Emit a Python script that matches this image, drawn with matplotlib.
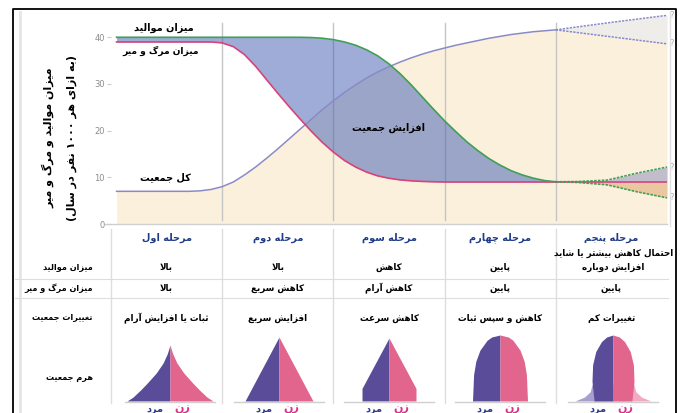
import re
import numpy as np
import matplotlib
matplotlib.use('Agg')
import matplotlib.pyplot as plt

plt.rcParams['font.family'] = ['DejaVu Sans']

# matplotlib has no arabic joining / bidi, so shape persian text by hand
FORMS = {
    '\u0622': ('\uFE81', '\uFE82', None, None),
    '\u0627': ('\uFE8D', '\uFE8E', None, None),
    '\u0628': ('\uFE8F', '\uFE90', '\uFE91', '\uFE92'),
    '\u067E': ('\uFB56', '\uFB57', '\uFB58', '\uFB59'),
    '\u062A': ('\uFE95', '\uFE96', '\uFE97', '\uFE98'),
    '\u062B': ('\uFE99', '\uFE9A', '\uFE9B', '\uFE9C'),
    '\u062C': ('\uFE9D', '\uFE9E', '\uFE9F', '\uFEA0'),
    '\u0686': ('\uFB7A', '\uFB7B', '\uFB7C', '\uFB7D'),
    '\u062D': ('\uFEA1', '\uFEA2', '\uFEA3', '\uFEA4'),
    '\u062F': ('\uFEA9', '\uFEAA', None, None),
    '\u0631': ('\uFEAD', '\uFEAE', None, None),
    '\u0632': ('\uFEAF', '\uFEB0', None, None),
    '\u0633': ('\uFEB1', '\uFEB2', '\uFEB3', '\uFEB4'),
    '\u0634': ('\uFEB5', '\uFEB6', '\uFEB7', '\uFEB8'),
    '\u0639': ('\uFEC9', '\uFECA', '\uFECB', '\uFECC'),
    '\u063A': ('\uFECD', '\uFECE', '\uFECF', '\uFED0'),
    '\u0641': ('\uFED1', '\uFED2', '\uFED3', '\uFED4'),
    '\u06A9': ('\uFB8E', '\uFB8F', '\uFB90', '\uFB91'),
    '\u06AF': ('\uFB92', '\uFB93', '\uFB94', '\uFB95'),
    '\u0644': ('\uFEDD', '\uFEDE', '\uFEDF', '\uFEE0'),
    '\u0645': ('\uFEE1', '\uFEE2', '\uFEE3', '\uFEE4'),
    '\u0646': ('\uFEE5', '\uFEE6', '\uFEE7', '\uFEE8'),
    '\u0647': ('\uFEE9', '\uFEEA', '\uFEEB', '\uFEEC'),
    '\u0648': ('\uFEED', '\uFEEE', None, None),
    '\u06CC': ('\uFBFC', '\uFBFD', '\uFBFE', '\uFBFF'),
}
LAM_ALEF = {'\u0627': ('\uFEFB', '\uFEFC'), '\u0622': ('\uFEF5', '\uFEF6')}


def joins_next(c):
    return c in FORMS and FORMS[c][2] is not None


def fa_line(text):
    text = text.replace('\u064A', '\u06CC').replace('\u0643', '\u06A9')
    out = []
    i = 0
    while i < len(text):
        ch = text[i]
        if ch not in FORMS:
            out.append(ch)
            i += 1
            continue
        prev_j = i > 0 and joins_next(text[i - 1])
        nxt = text[i + 1] if i + 1 < len(text) else ''
        if ch == '\u0644' and nxt in LAM_ALEF:
            out.append(LAM_ALEF[nxt][1 if prev_j else 0])
            i += 2
            continue
        next_j = joins_next(ch) and nxt in FORMS
        iso, fin, ini, med = FORMS[ch]
        if prev_j and next_j:
            out.append(med)
        elif prev_j:
            out.append(fin)
        elif next_j:
            out.append(ini)
        else:
            out.append(iso)
        i += 1
    s = ''.join(out)
    runs = re.findall(r'\d+|\D+', s)
    vis = ''.join(r if r[0].isdigit() else r[::-1] for r in reversed(runs))
    return vis.translate(str.maketrans('()', ')('))


def fa(text):
    return '\n'.join(fa_line(t) for t in text.split('\n'))


# ---------------- data ----------------
u = [0.05, 0.5, 0.6, 0.7, 0.8, 0.9, 1.0, 1.1, 1.2, 1.3, 1.4, 1.5, 1.6, 1.7, 1.8, 1.9, 2.0,
     2.1, 2.2, 2.3, 2.4, 2.5, 2.6, 2.7, 2.8, 2.9, 3.0, 3.1, 3.2, 3.3, 3.4,
     3.5, 3.6, 3.7, 3.8, 3.9, 4.0]
birth = [40, 40, 40, 40, 40, 40, 40, 40, 40, 40, 40, 40, 40, 40, 39.95, 39.8, 39.5,
         39.0, 38.3, 37.3, 36.0, 34.3, 32.2, 29.8, 27.2, 24.6, 22.1, 19.8, 17.6, 15.7, 14.0,
         12.6, 11.4, 10.5, 9.8, 9.3, 9.05]
death = [39, 39, 39, 39, 39, 39, 38.8, 38.0, 36.3, 33.8, 30.9, 28.0, 25.2, 22.5, 19.9, 17.5, 15.4,
         13.6, 12.2, 11.1, 10.3, 9.8, 9.45, 9.25, 9.12, 9.05, 9.0, 9.0, 9.0, 9.0, 9.0,
         9.0, 9.0, 9.0, 9.0, 9.0, 9.0]
population = [7.0, 7.0, 7.0, 7.0, 7.1, 7.4, 8.0, 9.0, 10.5, 12.2, 14.1, 16.1, 18.2, 20.3, 22.4, 24.5, 26.4,
              28.2, 29.8, 31.3, 32.6, 33.7, 34.7, 35.6, 36.4, 37.1, 37.7, 38.3, 38.8, 39.3, 39.8,
              40.2, 40.6, 40.9, 41.2, 41.4, 41.6]

# stage five: uncertain projections
proj_u = [4.0, 4.2, 4.46, 4.73, 5.0]
birth_hi = [9.05, 9.1, 9.4, 10.9, 12.2]
birth_lo = [9.05, 8.9, 8.4, 6.9, 5.6]
death_proj = [9.0, 9.0, 9.0, 9.0, 9.0]
pop_proj_u = [4.0, 4.5, 5.0]
pop_hi = [41.6, 43.2, 44.7]
pop_lo = [41.6, 40.1, 38.6]

stage_names = ['مرحله اول', 'مرحله دوم', 'مرحله سوم', 'مرحله چهارم', 'مرحله پنجم']
birth_txt = ['بالا', 'بالا', 'کاهش', 'پایین', 'احتمال کاهش بیشتر یا شاید\nافزایش دوباره']
death_txt = ['بالا', 'کاهش سریع', 'کاهش آرام', 'پایین', 'پایین']
change_txt = ['ثبات یا افزایش آرام', 'افزایش سریع', 'کاهش سرعت', 'کاهش و سپس ثبات', 'تغییرات کم']
row_labels = ['میزان موالید', 'میزان مرگ و میر', 'تغییرات جمعیت', 'هرم جمعیت']

# pyramid outlines: relative height -> relative half width
pyr_h = [[0, 0.07, 0.2, 0.32, 0.5, 0.68, 0.85, 1.0],
         [0, 1.0],
         [0, 0.2, 1.0],
         [0, 0.4, 0.6, 0.77, 0.92, 0.97, 1.0],
         [0, 0.3, 0.55, 0.75, 0.9, 0.97, 1.0]]
pyr_w = [[1, 0.86, 0.68, 0.53, 0.32, 0.16, 0.06, 0],
         [1, 0],
         [1, 1, 0],
         [1, 0.96, 0.88, 0.73, 0.47, 0.3, 0],
         [0.9, 1, 0.97, 0.82, 0.55, 0.3, 0]]
skirt_h = [0, 0.06, 0.14, 0.25]
skirt_w = [1, 0.75, 0.6, 0.55]

# ---------------- layout ----------------
W, H = 683, 413
X0, X1 = 111, 667          # stage 0..5 in pixels
Y0, YTOP = 224, 9          # value 0 and top of axes in pixels
PX_PER_UNIT = 4.6675

GREEN = '#3f9f56'
PINK = '#d8437a'
LAV = '#8a8ac6'
BEIGE = '#faf0dc'
MALE = '#5a4c98'
FEMALE = '#e2658e'
HEAD = '#1f3c88'
TS = 6.3                   # table text size

fig = plt.figure(figsize=(6.83, 4.13), dpi=100)

ax = fig.add_axes([X0 / W, (H - Y0) / H, (X1 - X0) / W, (Y0 - YTOP) / H])
ax.set_xlim(0, 5)
ax.set_ylim(0, (Y0 - YTOP) / PX_PER_UNIT)
ax.patch.set_alpha(0)
for s in ax.spines.values():
    s.set_visible(False)
ax.set_xticks([])
ax.set_yticks([0, 10, 20, 30, 40])
ax.tick_params(axis='y', length=3, width=0.8, color='#cccccc', labelcolor='#8c8c8c',
               labelsize=6, pad=1.5)

ax.fill_between(u, 0, population, color=BEIGE, lw=0, zorder=1)
ax.fill_between(pop_proj_u, 0, pop_lo, color=BEIGE, lw=0, zorder=1)
ax.fill_between(pop_proj_u, pop_lo, pop_hi, color='#efedea', lw=0, zorder=1)
ax.fill_between(u, death, birth, color='#4560b4', alpha=0.52, lw=0, zorder=2)
ax.fill_between(proj_u, death_proj, birth_hi, color='#8c8cc0', alpha=0.5, lw=0, zorder=2)
ax.fill_between(proj_u, birth_lo, death_proj, color='#d9955a', alpha=0.45, lw=0, zorder=2)

for b in [1, 2, 3, 4]:
    ax.plot([b, b], [0.8, 43], color='#c4c4c4', lw=1, zorder=1.5)
ax.plot([-0.054, 5], [0, 0], color='#d0d0d0', lw=1, clip_on=False, zorder=1.5)

ax.plot(u, population, color=LAV, lw=1.1, zorder=3)
ax.plot(u, death, color=PINK, lw=1.2, zorder=3)
ax.plot(u, birth, color=GREEN, lw=1.2, zorder=3)
ax.plot(proj_u, death_proj, color=PINK, lw=1.2, zorder=3)
dash = (0, (1.5, 0.8))
for yy in (pop_hi, pop_lo):
    ax.plot(pop_proj_u, yy, color=LAV, lw=1.1, ls=dash, zorder=3)
for yy in (birth_hi, birth_lo):
    ax.plot(proj_u, yy, color=GREEN, lw=1.2, ls=dash, zorder=3)
for yy in (pop_hi[-1], pop_lo[-1], birth_hi[-1], birth_lo[-1]):
    ax.text(5.02, yy, '?', color='#aaaaaa', fontsize=6, ha='left', va='center', zorder=4)

# overlay in pixel coordinates for the table, labels and pyramids
ov = fig.add_axes([0, 0, 1, 1], zorder=3)
ov.set_xlim(0, W)
ov.set_ylim(H, 0)
ov.axis('off')
ov.patch.set_alpha(0)

# frame
ov.plot([13, 13, 676, 676], [H, 8.5, 8.5, H], color='black', lw=1.3)
ov.plot([20, 20], [12, H], color='#e6e6e6', lw=2)
ov.plot([670, 670], [12, 226], color='#e0e0e0', lw=1)

# labels on the chart
bold = dict(fontweight='bold', color='black')
ov.text(164, 28, fa('میزان موالید'), fontsize=7, ha='center', va='center', **bold)
ov.text(161, 51, fa('میزان مرگ و میر'), fontsize=6.6, ha='center', va='center', **bold)
ov.text(165, 177, fa('کل جمعیت'), fontsize=7, ha='center', va='center', **bold)
ov.text(388, 128, fa('افزایش جمعیت'), fontsize=7, ha='center', va='center', **bold)
ov.text(48, 138, fa('میزان موالید و مرگ و میر'), fontsize=8, rotation=90,
        ha='center', va='center', **bold)
ov.text(72, 138, fa('(به ازای هر ۱۰۰۰ نفر در سال)'), fontsize=8, rotation=90,
        ha='center', va='center', **bold)

# table
edges = [X0 + (X1 - X0) * k / 5 for k in range(6)]
centers = [(edges[k] + edges[k + 1]) / 2 for k in range(5)]
for xe in edges[:5]:
    ov.plot([xe, xe], [229, 403], color='#dedede', lw=1)
for yl in (279, 298):
    ov.plot([15, 668], [yl, yl], color='#dddddd', lw=0.8)

for k in range(5):
    cx = centers[k]
    ov.text(cx, 238, fa(stage_names[k]), fontsize=7, color=HEAD, fontweight='bold',
            ha='center', va='center')
    lines = birth_txt[k].split('\n')
    for j, line in enumerate(lines):
        ov.text(cx + (2 if k == 4 else 0), 267 - 14 * (len(lines) - 1 - j), fa(line),
                fontsize=TS, ha='center', va='center', **bold)
    ov.text(cx, 288, fa(death_txt[k]), fontsize=TS, ha='center', va='center', **bold)
    ov.text(cx, 318, fa(change_txt[k]), fontsize=TS, ha='center', va='center', **bold)

for yy, lab in zip([267, 288, 318, 377], row_labels):
    ov.text(93, yy, fa(lab), fontsize=5.9, ha='right', va='center', **bold)

# pyramids
pyr_cx = [170, 279, 389, 500, 613]
pyr_top = [345, 337, 338, 335, 335]
pyr_half = [43, 34, 27, 27.5, 21]
base = 401
for k in range(5):
    cx = pyr_cx[k]
    hgt = base - pyr_top[k]
    yy = base - np.array(pyr_h[k]) * hgt
    ww = np.array(pyr_w[k]) * pyr_half[k]
    if k == 4:
        ys = base - np.array(skirt_h) * hgt
        ws = np.array(skirt_w) * 38
        ov.fill_betweenx(ys, cx - ws, cx, color='#a99ecf', lw=0)
        ov.fill_betweenx(ys, cx, cx + ws, color='#f1aac2', lw=0)
    ov.fill_betweenx(yy, cx - ww, cx, color=MALE, lw=0)
    ov.fill_betweenx(yy, cx, cx + ww, color=FEMALE, lw=0)
    ov.plot([cx - 45, cx + 45], [base + 0.5, base + 0.5], color='#cfcfcf', lw=1)
    ov.text(cx - 15, 409, fa('مرد'), fontsize=7, color='#2b3c8c', fontweight='bold',
            ha='center', va='center')
    ov.text(cx + 12, 409, fa('زن'), fontsize=8, color='#e0308a', fontweight='bold',
            ha='center', va='center')

fig.savefig('out.png', dpi=100)
